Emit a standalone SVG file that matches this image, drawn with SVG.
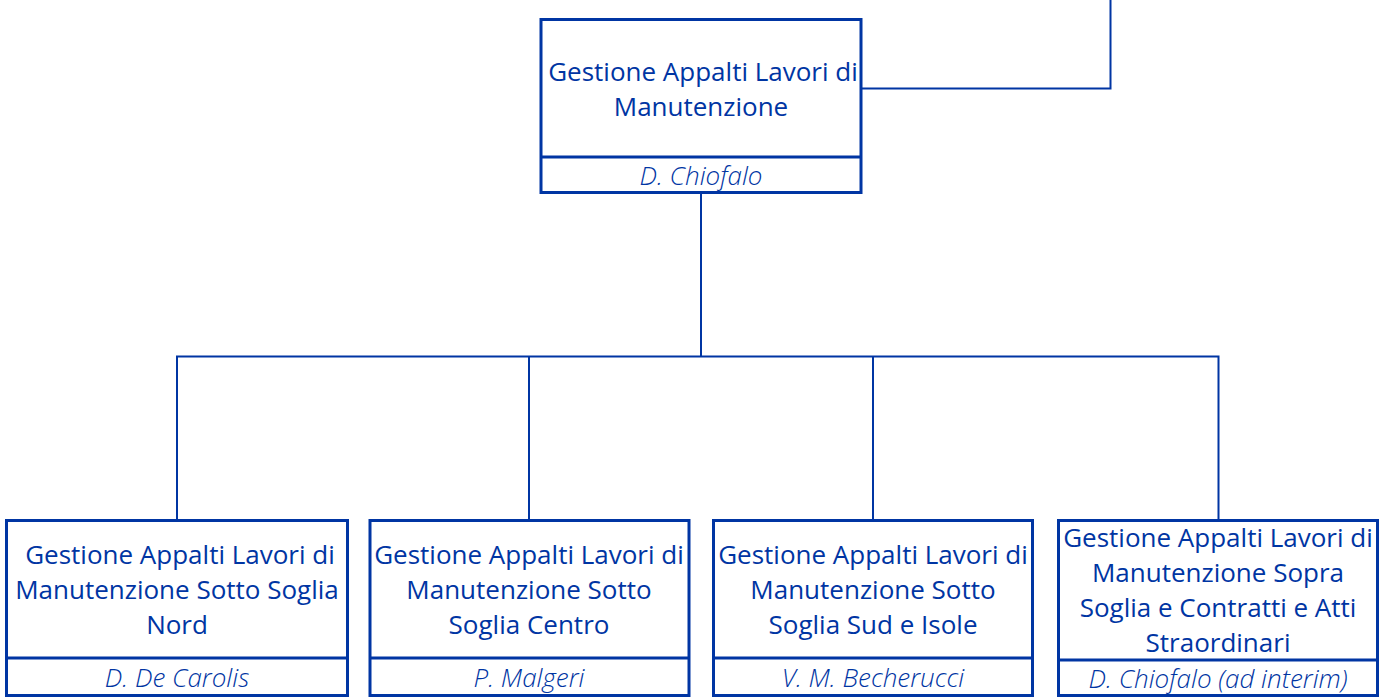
<svg xmlns="http://www.w3.org/2000/svg" width="1383" height="700" viewBox="0 0 1383 700">
<style>
.box{fill:#fff;stroke:#0035a3;stroke-width:3}
.div{stroke:#0035a3;stroke-width:3}
.conn{fill:none;stroke:#0035a3;stroke-width:2}
.t{font-family:"Open Sans","Noto Sans",sans-serif;font-size:26px;fill:#0035a3;text-anchor:middle}
.n{font-family:"Open Sans","Noto Sans",sans-serif;font-size:26px;font-style:italic;font-weight:300;fill:#0035a3;text-anchor:middle}
</style>
<rect width="1383" height="700" fill="#fff"/>
<g id="connectors">
<path class="conn" d="M861 88.5H1110.5V0"/>
<path class="conn" d="M701 193V356.5"/>
<path class="conn" d="M177 520V356.5H1218.5V520"/>
<path class="conn" d="M529 356.5V520"/>
<path class="conn" d="M873 356.5V520"/>
</g>
<g id="top">
<rect class="box" x="541" y="19.5" width="320" height="173"/>
<line class="div" x1="541" y1="157" x2="861" y2="157"/>
<text class="t" x="703" y="81">Gestione Appalti Lavori di</text>
<text class="t" x="701" y="116">Manutenzione</text>
<text class="n" x="701" y="185">D. Chiofalo</text>
</g>
<g id="nord">
<rect class="box" x="6.5" y="520.5" width="341" height="175"/>
<line class="div" x1="6.5" y1="658" x2="347.5" y2="658"/>
<text class="t" x="180" y="564">Gestione Appalti Lavori di</text>
<text class="t" x="177" y="599">Manutenzione Sotto Soglia</text>
<text class="t" x="177" y="634">Nord</text>
<text class="n" x="177" y="687">D. De Carolis</text>
</g>
<g id="centro">
<rect class="box" x="370" y="520.5" width="319" height="175"/>
<line class="div" x1="370" y1="658" x2="689" y2="658"/>
<text class="t" x="529" y="564">Gestione Appalti Lavori di</text>
<text class="t" x="529" y="599">Manutenzione Sotto</text>
<text class="t" x="529" y="634">Soglia Centro</text>
<text class="n" x="529" y="687">P. Malgeri</text>
</g>
<g id="sud">
<rect class="box" x="713.5" y="520.5" width="319" height="175"/>
<line class="div" x1="713.5" y1="658" x2="1032.5" y2="658"/>
<text class="t" x="873" y="564">Gestione Appalti Lavori di</text>
<text class="t" x="873" y="599">Manutenzione Sotto</text>
<text class="t" x="873" y="634">Soglia Sud e Isole</text>
<text class="n" x="873" y="687">V. M. Becherucci</text>
</g>
<g id="sopra">
<rect class="box" x="1058.5" y="520.5" width="319" height="175"/>
<line class="div" x1="1058.5" y1="660" x2="1377.5" y2="660"/>
<text class="t" x="1218" y="547">Gestione Appalti Lavori di</text>
<text class="t" x="1218" y="582">Manutenzione Sopra</text>
<text class="t" x="1218" y="617">Soglia e Contratti e Atti</text>
<text class="t" x="1218" y="652">Straordinari</text>
<text class="n" x="1218" y="688">D. Chiofalo (ad interim)</text>
</g>
</svg>
